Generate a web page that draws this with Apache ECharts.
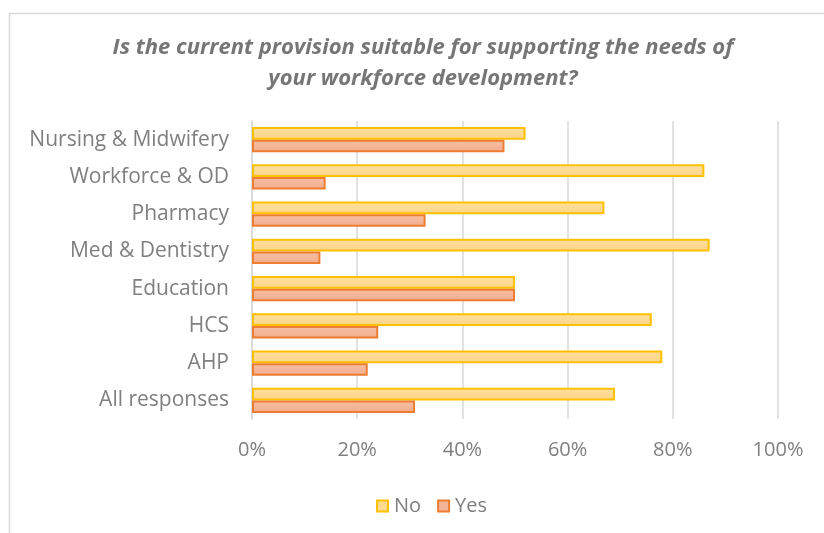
<!DOCTYPE html>
<html>
<head>
<meta charset="utf-8">
<script src="https://cdn.jsdelivr.net/npm/echarts@6/dist/echarts.min.js"></script>
<style>
  html, body { margin: 0; padding: 0; background: #fff; }
  #chart { width: 824px; height: 533px; }
</style>
</head>
<body>
<div id="chart"></div>
<script>
// Departments, listed top to bottom
const categories = [
  'Nursing & Midwifery',
  'Workforce & OD',
  'Pharmacy',
  'Med & Dentistry',
  'Education',
  'HCS',
  'AHP',
  'All responses'
];
// Share of respondents (%) per answer
const noValues  = [52, 86, 67, 87, 50, 76, 78, 69];
const yesValues = [48, 14, 33, 13, 50, 24, 22, 31];
const xTicks = [0, 20, 40, 60, 80, 100];

const FONT = '"Open Sans", Lato, sans-serif';
const TEXT_GREY = '#7f7f7f';

const noFill = new echarts.graphic.LinearGradient(0, 0, 0, 1, [
  { offset: 0, color: '#FFDF9E' },
  { offset: 1, color: '#FED589' }
]);
const yesFill = new echarts.graphic.LinearGradient(0, 0, 0, 1, [
  { offset: 0, color: '#F6C1A6' },
  { offset: 1, color: '#F3AB8C' }
]);

const chart = echarts.init(document.getElementById('chart'), null, { renderer: 'canvas' });

chart.setOption({
  backgroundColor: '#ffffff',
  animation: false,
  graphic: [{
    type: 'rect',
    silent: true,
    shape: { x: 9.5, y: 13.5, width: 900, height: 600 },
    style: { fill: 'none', stroke: '#d9d9d9', lineWidth: 1.5 }
  }],
  title: {
    text: 'Is the current provision suitable for supporting the needs of\nyour workforce development?',
    left: 418,
    top: 27,
    textAlign: 'center',
    textStyle: {
      fontFamily: FONT,
      fontSize: 22,
      fontWeight: 'bold',
      fontStyle: 'italic',
      color: '#767676',
      lineHeight: 31
    }
  },
  legend: {
    top: 491,
    left: 371,
    itemWidth: 11,
    itemHeight: 11,
    itemGap: 16,
    icon: 'rect',
    textStyle: { fontFamily: FONT, fontSize: 20, color: TEXT_GREY, padding: [0, 0, 0, 1] },
    data: [
      { name: 'No', itemStyle: { color: '#FED98E', borderColor: '#FFC000', borderWidth: 2 } },
      { name: 'Yes', itemStyle: { color: '#F4B49A', borderColor: '#ED7D31', borderWidth: 2 } }
    ]
  },
  grid: {
    left: 252,
    right: 46,
    top: 121,
    height: 298,
    containLabel: false
  },
  xAxis: {
    type: 'value',
    min: xTicks[0],
    max: xTicks[xTicks.length - 1],
    interval: xTicks[1] - xTicks[0],
    axisLine: { show: false },
    axisTick: { show: false },
    axisLabel: {
      formatter: v => v + '%',
      fontFamily: FONT,
      fontSize: 20,
      color: TEXT_GREY,
      margin: 21
    },
    splitLine: { lineStyle: { color: '#d9d9d9', width: 1.5 } }
  },
  yAxis: {
    type: 'category',
    data: categories,
    inverse: true,
    axisLine: { show: true, lineStyle: { color: '#d9d9d9', width: 1.5 } },
    axisTick: { show: false },
    axisLabel: {
      fontFamily: FONT,
      fontSize: 21,
      color: TEXT_GREY,
      margin: 23
    }
  },
  series: [
    {
      name: 'No',
      type: 'bar',
      data: noValues,
      barGap: '0%',
      barCategoryGap: '32%',
      itemStyle: { color: noFill, borderColor: '#FFC000', borderWidth: 2 }
    },
    {
      name: 'Yes',
      type: 'bar',
      data: yesValues,
      barGap: '0%',
      barCategoryGap: '32%',
      itemStyle: { color: yesFill, borderColor: '#ED7D31', borderWidth: 2 }
    }
  ]
});
</script>
</body>
</html>
